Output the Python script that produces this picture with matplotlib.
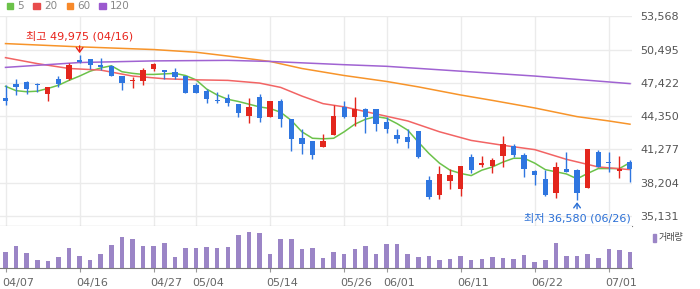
import matplotlib
matplotlib.use("Agg")
import matplotlib.pyplot as plt
import numpy as np
from matplotlib.patches import Rectangle
from matplotlib.transforms import ScaledTranslation

# 일봉 (시가, 고가, 저가, 종가)
opens = [46030, 47300, 47500, 47350, 46370, 47750, 47750, 49500, 49650, 49050,
         49000, 48050, 47550, 47600, 48700, 48600, 48400, 48100, 47200, 46650,
         45800, 46050, 45450, 44350, 46100, 44300, 45700, 44050, 42300, 42050,
         41500, 42600, 45200, 44300, 45000, 45000, 43800, 42600, 42400, 42950,
         38450, 37050, 38350, 37600, 40550, 39850, 39750, 40700, 41550, 40750,
         39250, 38550, 37200, 39450, 39350, 37700, 41000, 40100, 39300, 40100]
highs = [47200, 47750, 47550, 47400, 47050, 48050, 49300, 49975, 49650, 49750,
         49050, 48050, 47950, 48750, 49300, 48600, 48800, 48100, 47400, 46850,
         46550, 46350, 45450, 46050, 46400, 45700, 45900, 44050, 43200, 42050,
         42700, 45350, 45700, 46100, 45100, 45000, 44300, 43150, 43150, 42950,
         38800, 39700, 39450, 39700, 40850, 40650, 40500, 42500, 41800, 40900,
         39400, 39400, 40100, 41000, 39500, 41300, 41250, 41000, 40650, 40300]
lows = [45350, 46300, 46350, 46600, 45750, 47050, 47650, 49250, 48700, 48600,
        48050, 46750, 46900, 47200, 48500, 47800, 47750, 46450, 46450, 45600,
        45550, 45300, 44300, 43700, 43800, 44300, 43350, 41150, 40800, 40350,
        41480, 42600, 44200, 43450, 42800, 43000, 42750, 41900, 41400, 40500,
        36700, 36650, 37600, 36950, 39050, 39600, 39100, 39650, 40600, 38750,
        37950, 37000, 36800, 39200, 36580, 37700, 39600, 39150, 38650, 38300]
closes = [45750, 47000, 46850, 47200, 47000, 47300, 49100, 49350, 49100, 48900,
          48100, 47400, 47650, 48600, 49200, 48450, 47950, 46500, 46500, 45950,
          45700, 45600, 44650, 45150, 44200, 45700, 44100, 42250, 41800, 40750,
          42050, 44350, 44300, 45000, 44300, 43650, 43150, 42200, 41950, 40600,
          36900, 39000, 38900, 39700, 39400, 40000, 40300, 41800, 40750, 39500,
          38950, 37100, 39600, 39200, 37250, 41300, 39650, 40000, 39500, 39500]
volume = [49, 67, 46, 25, 22, 34, 61, 37, 25, 43, 70, 94, 88, 67, 67, 76, 34, 61, 61, 64,
          61, 64, 100, 109, 106, 43, 88, 88, 58, 61, 31, 49, 43, 58, 67, 43, 73, 73, 43, 34,
          37, 25, 28, 37, 25, 28, 34, 31, 28, 40, 19, 25, 76, 37, 37, 43, 31, 58, 55, 49]
volume = [v * 1000 for v in volume]

# 이동평균선
ma5 = [47100, 46700, 46600, 46650, 46900, 47200, 47650, 48050, 48500, 48800,
       49000, 48450, 48300, 48200, 48200, 48250, 48300, 48100, 47700, 46850,
       46300, 45900, 45700, 45450, 45200, 45050, 44700, 43950, 42900, 42300,
       42250, 42300, 42900, 43600, 44050, 44300, 44150, 43650, 43050, 41950,
       40900, 40000, 39350, 39050, 38850, 39350, 39650, 40100, 40450, 40450,
       40000, 39400, 39200, 39000, 38550, 39050, 39500, 39500, 39500, 40050]
ma20_idx = [0, 3, 6, 9, 12, 15, 18, 21, 24, 26, 28, 30, 32, 35, 38, 41, 44, 47, 50, 53, 56, 59]
ma20 = [49750, 49200, 48750, 48600, 48050, 47800, 47700, 47650, 47400, 47000, 46200,
        45500, 45200, 44550, 43900, 42900, 42100, 41650, 41250, 40350, 39650, 39400]
ma60_idx = [0, 7, 14, 18, 21, 25, 28, 32, 36, 39, 43, 46, 50, 54, 57, 59]
ma60 = [51050, 50750, 50500, 50250, 49900, 49400, 48750, 48100, 47550, 47050,
        46300, 45800, 45100, 44300, 43900, 43600]
ma120_idx = [0, 7, 14, 21, 25, 32, 36, 43, 50, 59]
ma120 = [48850, 49300, 49450, 49500, 49400, 49100, 48950, 48500, 48050, 47350]

price_ticks = [35131, 38204, 41277, 44350, 47422, 50495, 53568]
date_idx = [0, 7, 14, 18, 25, 32, 36, 43, 50, 57]
date_labels = ["04/07", "04/16", "04/27", "05/04", "05/14", "05/26", "06/01", "06/11", "06/22", "07/01"]

UP = "#e3261d"
DOWN = "#2f76e0"
GRID = "#ebebeb"
KFONT = ["DejaVu Sans", "Noto Sans CJK KR"]

W, H = 700, 289
fig = plt.figure(figsize=(W / 100, H / 100), dpi=100)


def box(x0, y0, x1, y1):
    # 픽셀 좌표(위에서부터) -> figure 비율
    return [x0 / W, 1 - y1 / H, (x1 - x0) / W, (y1 - y0) / H]


ax = fig.add_axes(box(0, 16, 632, 225.5))
axv = fig.add_axes(box(0, 225.5, 632, 268.3), sharex=ax)

x = np.arange(len(closes))
o = np.array(opens)
c = np.array(closes)
up = c >= o
colors = np.where(up, UP, DOWN)

# 이동평균선
ax.plot(x, ma5, color="#6cc24a", lw=1.1, zorder=2)
ax.plot(ma20_idx, ma20, color="#f26464", lw=1.1, zorder=2)
ax.plot(ma60_idx, ma60, color="#f7942a", lw=1.1, zorder=2)
ax.plot(ma120_idx, ma120, color="#a063d2", lw=1.1, zorder=2)

# 캔들
ax.vlines(x, lows, highs, colors=colors, lw=1, zorder=3)
body = np.maximum(np.abs(c - o), 60)
ax.bar(x, body, bottom=np.minimum(o, c), width=0.5, color=colors, zorder=4)

ax.set_xlim(-0.52, 59.19)
ax.set_ylim(34237, 53600)
ax.set_yticks(price_ticks)
ax.set_yticklabels([f"{t:,}" for t in price_ticks])
ax.yaxis.tick_right()
ax.tick_params(axis="y", length=0, pad=6, labelsize=8, labelcolor="#555555")
ax.set_xticks(date_idx)
ax.tick_params(axis="x", length=0, labelbottom=False)
ax.grid(True, color=GRID, lw=1, zorder=0)
for s in ["top", "left", "right"]:
    ax.spines[s].set_visible(False)
ax.spines["bottom"].set_color("#7a7a7a")

# 최고 / 최저 표시
hi = int(np.argmax(highs))
lo = int(np.argmin(lows))
ax.annotate("최고 49,975 (04/16)", xy=(hi, highs[hi]), xytext=(0, 13.5), textcoords="offset points",
            ha="center", va="center", color="#e8231b", fontsize=8, family=KFONT,
            arrowprops=dict(arrowstyle="->,head_length=0.4,head_width=0.3", color="#e8231b",
                            lw=1, shrinkA=1, shrinkB=1.5))
ax.annotate("최저 36,580 (06/26)", xy=(lo, lows[lo]), xytext=(0, -13), textcoords="offset points",
            ha="center", va="center", color="#2a6fd6", fontsize=8, family=KFONT,
            arrowprops=dict(arrowstyle="->,head_length=0.4,head_width=0.3", color="#2a6fd6",
                            lw=1, shrinkA=1, shrinkB=1.5))

# 거래량
axv.bar(x, volume, width=0.43, color="#9b85c6", zorder=2)
axv.set_ylim(0, 128500)
axv.set_yticks([])
for s in ["top", "left", "right"]:
    axv.spines[s].set_visible(False)
axv.spines["bottom"].set_color("#7a7a7a")
axv.set_xticks(date_idx)
axv.set_xticklabels(date_labels)
axv.tick_params(axis="x", length=3, color="#999999", pad=4, labelsize=8, labelcolor="#666666")
shift = ScaledTranslation(-0.035, 0, fig.dpi_scale_trans)
for lab in axv.get_xticklabels():
    lab.set_horizontalalignment("left")
    lab.set_transform(lab.get_transform() + shift)

# 범례
legend = [("5", "#6cc24a"), ("20", "#e84c4c"), ("60", "#f7892a"), ("120", "#9b59cf")]
lx = [6.7, 33.3, 66.7, 99.3]
for (name, col), x0 in zip(legend, lx):
    fig.add_artist(Rectangle((x0 / W, 1 - 9.3 / H), 6.6 / W, 6.6 / H,
                             transform=fig.transFigure, color=col))
    fig.text((x0 + 10.5) / W, 1 - 6 / H, name, color="#888888", fontsize=7.5, va="center", ha="left")

fig.add_artist(Rectangle((652.7 / W, 1 - 241.7 / H), 3.4 / W, 7.7 / H,
                         transform=fig.transFigure, color="#9b85c6"))
fig.text(658.5 / W, 1 - 237.5 / H, "거래량", color="#444444", fontsize=6.5,
         va="center", ha="left", family=KFONT)

fig.savefig("out.png", dpi=100)
